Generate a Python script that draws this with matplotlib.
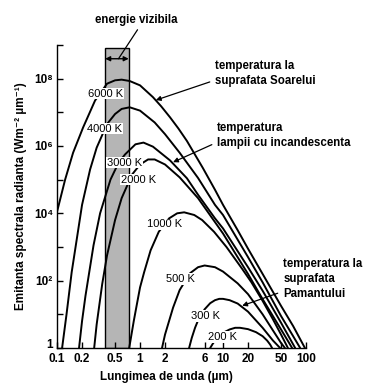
import matplotlib
matplotlib.use('Agg')
import matplotlib.pyplot as plt
import matplotlib.transforms as mtransforms
from matplotlib.patches import Rectangle

plt.rcParams['font.family'] = ['Liberation Sans', 'DejaVu Sans']

# Spectral emittance curves (W m-2 um-1), one list per temperature
wl_6000 = [0.1, 0.125, 0.156, 0.206, 0.287, 0.4, 0.5, 0.6, 0.75, 1.0, 1.43, 1.8, 2.3, 2.9,
           3.67, 5.7, 8.0, 10, 15, 20, 30, 50, 70, 97]
em_6000 = [1.12e4, 1.0e5, 6.3e5, 3.55e6, 2.24e7, 7.08e7, 8.91e7, 9.33e7, 8.5e7, 6.31e7, 2.82e7, 1.5e7,
           7.08e6, 3.3e6, 1.41e6, 2.24e5, 5.0e4, 1.78e4, 3.16e3, 8.9e2, 1.58e2, 17.8, 4.47, 1.0]

wl_4000 = [0.115, 0.13, 0.15, 0.2, 0.25, 0.3, 0.4, 0.5, 0.6, 0.75, 1.0, 1.5, 2, 3, 5, 8, 10, 20, 30, 50, 70, 85]
em_4000 = [1.0, 10, 178, 1.78e4, 2.0e5, 8.9e5, 4.47e6, 8.9e6, 1.26e7, 1.41e7, 1.12e7, 5.0e6, 2.24e6,
           6.3e5, 1.12e5, 1.78e4, 8.9e3, 5.0e2, 89, 8.9, 2.24, 1.0]

wl_3000 = [0.184, 0.2, 0.22, 0.275, 0.33, 0.44, 0.55, 0.66, 0.88, 1.1, 1.43, 2.3, 3.67, 5, 8, 10,
           20, 30, 50, 74]
em_3000 = [1.0, 6.3, 35.5, 1.12e3, 1.0e4, 1.0e5, 3.16e5, 5.62e5, 1.12e6, 1.26e6, 9.55e5, 3.72e5,
           1.1e5, 3.55e4, 7.08e3, 3.55e3, 251, 50.1, 5.62, 1.0]

wl_2000 = [0.28, 0.3, 0.35, 0.4, 0.5, 0.6, 0.8, 1.0, 1.25, 1.5, 2, 3, 5, 10, 20, 30, 50, 68]
em_2000 = [1.0, 5.01, 79.4, 562, 6.31e3, 2.82e4, 1.41e5, 2.82e5, 3.98e5, 3.98e5, 2.82e5, 1.17e5,
           2.82e4, 2.51e3, 158, 28.2, 3.55, 1.0]

wl_1000 = [0.74, 0.84, 0.9, 1.0, 1.12, 1.34, 1.68, 2.24, 2.8, 3.4, 4.5, 5.6, 7.8, 11, 17, 22, 30,
           40, 50, 60.5]
em_1000 = [1.0, 6.31, 15.8, 63.1, 178, 794, 2.82e3, 7.08e3, 1.0e4, 1.07e4, 8.91e3, 6.31e3, 2.82e3,
           1.0e3, 224, 89.1, 25.1, 7.08, 2.51, 1.0]

wl_500 = [1.84, 2.0, 2.5, 3, 4, 5, 6, 8, 10, 15, 20, 30, 40, 50, 55.7]
em_500 = [1.0, 2.51, 15.8, 52.5, 166, 251, 282, 251, 186, 83.2, 39.8, 10.0, 3.31, 1.41, 1.0]

wl_300 = [3.9, 4.2, 4.6, 5, 6, 7, 8, 9, 10, 12, 15, 20, 30, 40, 48.7]
em_300 = [1.0, 2.0, 3.98, 6.61, 14.1, 21.4, 26.3, 28.8, 28.8, 26.3, 20.9, 12.0, 3.98, 1.66, 1.0]

wl_200 = [7.0, 7.5, 8, 9, 10, 12, 14, 16, 20, 25, 30, 34, 37, 39]
em_200 = [1.0, 1.32, 1.66, 2.29, 2.82, 3.55, 3.98, 3.98, 3.63, 2.95, 2.24, 1.66, 1.26, 1.0]

curves = [(wl_6000, em_6000), (wl_4000, em_4000), (wl_3000, em_3000), (wl_2000, em_2000),
          (wl_1000, em_1000), (wl_500, em_500), (wl_300, em_300), (wl_200, em_200)]

# curve labels and where they sit
temp_labels = ['6000 K', '4000 K', '3000 K', '2000 K', '1000 K', '500 K', '300 K', '200 K']
label_wl = [0.384, 0.374, 0.65, 0.96, 2.0, 3.1, 6.1, 9.8]
label_em = [3.6e7, 3.3e6, 3.2e5, 1.0e5, 4.7e3, 110, 8.9, 2.1]

# visible band
visible_band = (0.38, 0.73)
band_top = 8.3e8

x_ticks = [0.1, 0.2, 0.5, 1, 2, 6, 10, 20, 50, 100]
x_tick_labels = ['0.1', '0.2', '0.5', '1', '2', '6', '10', '20', '50', '100']
y_ticks = [1, 1e1, 1e2, 1e3, 1e4, 1e5, 1e6, 1e7, 1e8, 1e9]
y_tick_labels = ['1', '', '10²', '', '10⁴', '', '10⁶', '', '10⁸', '']

fig = plt.figure(figsize=(3.83, 3.91), dpi=100)
ax = fig.add_axes([0.149, 0.110, 0.650, 0.775])
ax.set_xscale('log')
ax.set_yscale('log')
ax.set_xlim(0.1, 100)
ax.set_ylim(1, 1e9)

# grey band for visible light
ax.add_patch(Rectangle((visible_band[0], 1), visible_band[1] - visible_band[0], band_top - 1,
                       facecolor='#b5b5b5', edgecolor='black', linewidth=1.0, zorder=1))
ax.annotate('', xy=(visible_band[0], 3.9e8), xytext=(visible_band[1], 3.9e8),
            arrowprops=dict(arrowstyle='<|-|>', color='black', lw=1.0, mutation_scale=7,
                            shrinkA=0, shrinkB=0), zorder=4)

for wl, em in curves:
    ax.plot(wl, em, color='black', linewidth=1.4, zorder=3, solid_capstyle='round')

for txt, lx, ly in zip(temp_labels, label_wl, label_em):
    ax.text(lx, ly, txt, fontsize=8, ha='center', va='center', zorder=5,
            bbox=dict(facecolor='white', edgecolor='none', pad=0.6))

# annotations
ax.annotate('energie vizibila', xy=(0.55, 3.9e8), xytext=(0.317, 1.083),
            textcoords='axes fraction', fontsize=8.3, fontweight='bold', ha='center', va='center',
            arrowprops=dict(arrowstyle='-', color='black', lw=0.9, relpos=(0.55, 0.0),
                            shrinkA=1, shrinkB=0), annotation_clip=False)
ax.annotate('temperatura la\nsuprafata Soarelui', xy=(1.55, 2.3e7), xytext=(0.635, 0.906),
            textcoords='axes fraction', fontsize=8.3, fontweight='bold', ha='left', va='center',
            linespacing=1.3,
            arrowprops=dict(arrowstyle='-|>', color='black', lw=0.9, mutation_scale=7,
                            relpos=(0.0, 0.25), shrinkA=2, shrinkB=0), annotation_clip=False)
ax.annotate('temperatura\nlampii cu incandescenta', xy=(2.5, 3.3e5), xytext=(0.643, 0.701),
            textcoords='axes fraction', fontsize=8.3, fontweight='bold', ha='left', va='center',
            linespacing=1.3,
            arrowprops=dict(arrowstyle='-|>', color='black', lw=0.9, mutation_scale=7,
                            relpos=(0.0, 0.25), shrinkA=2, shrinkB=0), annotation_clip=False)
ax.annotate('temperatura la\nsuprafata\nPamantului', xy=(17, 18), xytext=(0.908, 0.228),
            textcoords='axes fraction', fontsize=8.3, fontweight='bold', ha='left', va='center',
            linespacing=1.3,
            arrowprops=dict(arrowstyle='-|>', color='black', lw=0.9, mutation_scale=7,
                            relpos=(0.0, 0.2), shrinkA=2, shrinkB=0), annotation_clip=False)

# axes styling
for side in ['top', 'right']:
    ax.spines[side].set_visible(False)
for side in ['left', 'bottom']:
    ax.spines[side].set_linewidth(1.0)

ax.xaxis.set_major_locator(plt.FixedLocator(x_ticks))
ax.xaxis.set_minor_locator(plt.NullLocator())
ax.set_xticklabels(x_tick_labels)
ax.yaxis.set_major_locator(plt.FixedLocator(y_ticks))
ax.yaxis.set_minor_locator(plt.NullLocator())
ax.set_yticklabels(y_tick_labels)
ax.tick_params(axis='both', direction='in', length=4, width=1.0, labelsize=8.5)
ax.tick_params(axis='x', pad=3.5)
ax.tick_params(axis='y', pad=3)
for lab in ax.get_xticklabels():
    lab.set_fontweight('bold')
for lab in ax.get_yticklabels():
    lab.set_fontweight('bold')

# the "1" at the corner sits a little higher so it clears "0.1"
one_label = ax.get_yticklabels()[0]
one_label.set_transform(one_label.get_transform() +
                        mtransforms.ScaledTranslation(0, 3 / 72, fig.dpi_scale_trans))

ax.set_xlabel('Lungimea de unda (µm)', fontsize=8.5, fontweight='bold')
ax.xaxis.set_label_coords(0.44, -0.075)
ax.set_ylabel('Emitanta spectrala radianta (Wm⁻² µm⁻¹)', fontsize=8.5, fontweight='bold')
ax.yaxis.set_label_coords(-0.12, 0.5)

fig.savefig('out.png', dpi=100)
